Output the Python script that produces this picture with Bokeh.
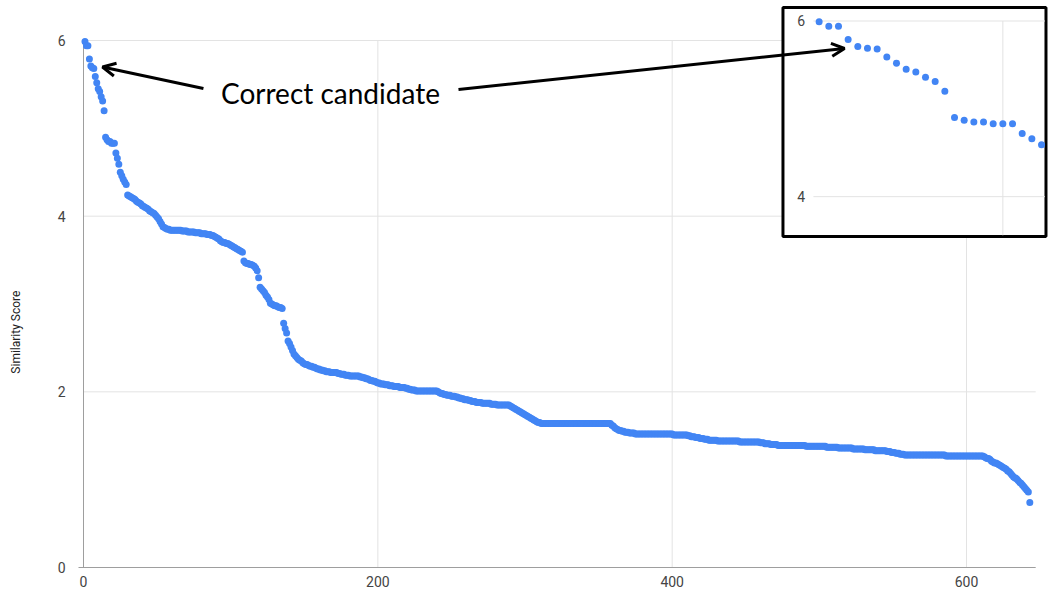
import math
from bokeh.plotting import figure
from bokeh.models import ColumnDataSource, Range1d, FixedTicker, Arrow, OpenHead, Label
from bokeh.core.properties import value
from bokeh.embed import file_html
from bokeh.resources import INLINE

# ---------------- data ----------------
# similarity score of each ranked candidate, rank 1 .. 643
scores_head = [
    5.99, 5.94, 5.94, 5.79, 5.71, 5.69, 5.68, 5.59, 5.52, 5.45,
    5.42, 5.36, 5.31, 5.20, 4.90, 4.87, 4.85, 4.85, 4.83, 4.83,
    4.83, 4.72, 4.66, 4.59, 4.50, 4.46, 4.42, 4.39, 4.36, 4.24,
    4.23, 4.22, 4.21, 4.20, 4.19, 4.17, 4.16, 4.15, 4.14, 4.12,
    4.11, 4.10, 4.09, 4.08, 4.06, 4.05, 4.04, 4.03, 4.01, 3.99,
    3.97, 3.94, 3.91, 3.88, 3.87, 3.86, 3.85, 3.85, 3.84, 3.84,
    3.84, 3.84, 3.84, 3.84, 3.84, 3.84, 3.83, 3.83, 3.83, 3.83,
    3.82, 3.82, 3.82, 3.82, 3.82, 3.81, 3.81, 3.81, 3.81, 3.80,
    3.80, 3.80, 3.80, 3.79, 3.79, 3.79, 3.78, 3.78, 3.77, 3.76,
    3.75, 3.74, 3.72, 3.71, 3.70, 3.70, 3.69, 3.69, 3.68, 3.67,
    3.66, 3.65, 3.64, 3.63, 3.62, 3.61, 3.60, 3.59, 3.49, 3.47,
    3.46, 3.46, 3.45, 3.45, 3.44, 3.43, 3.41, 3.38, 3.30, 3.19,
    3.17, 3.15, 3.13, 3.10, 3.08, 3.05, 3.01, 3.00, 2.99, 2.98,
    2.98, 2.97, 2.96, 2.96, 2.95, 2.78, 2.72, 2.67, 2.58, 2.55,
    2.51, 2.47, 2.43, 2.41, 2.39, 2.37, 2.36, 2.35, 2.33, 2.32,
]
scores_mid = [
    2.31, 2.31, 2.30, 2.29, 2.29, 2.28, 2.28, 2.27, 2.26, 2.26,
    2.25, 2.25, 2.24, 2.24, 2.23, 2.23, 2.23, 2.22, 2.22, 2.22,
    2.22, 2.22, 2.21, 2.21, 2.20, 2.20, 2.20, 2.19, 2.19, 2.19,
    2.18, 2.18, 2.18, 2.18, 2.18, 2.18, 2.18, 2.17, 2.17, 2.16,
    2.16, 2.15, 2.15, 2.14, 2.13, 2.13, 2.12, 2.12, 2.11, 2.10,
    2.10, 2.09, 2.09, 2.09, 2.08, 2.08, 2.08, 2.07, 2.07, 2.07,
    2.06, 2.06, 2.06, 2.06, 2.05, 2.05, 2.05, 2.05, 2.04, 2.04,
    2.03, 2.03, 2.02, 2.02, 2.02, 2.01, 2.01, 2.01, 2.01, 2.01,
    2.01, 2.01, 2.01, 2.01, 2.01, 2.01, 2.01, 2.01, 2.01, 2.01,
    2.00, 1.99, 1.98, 1.98, 1.97, 1.97, 1.96, 1.96, 1.96, 1.95,
    1.95, 1.95, 1.94, 1.94, 1.93, 1.93, 1.92, 1.92, 1.91, 1.91,
    1.91, 1.90, 1.90, 1.89, 1.89, 1.89, 1.88, 1.88, 1.88, 1.88,
    1.87, 1.87, 1.87, 1.87, 1.87, 1.87, 1.86, 1.86, 1.86, 1.86,
    1.85, 1.85, 1.85, 1.85, 1.85, 1.85, 1.85, 1.85, 1.85, 1.84,
    1.83, 1.82, 1.81, 1.80, 1.79, 1.78, 1.77, 1.76, 1.75, 1.74,
    1.73, 1.72, 1.71, 1.70, 1.69, 1.68, 1.67, 1.66, 1.65, 1.65,
    1.64, 1.64, 1.64, 1.64, 1.64, 1.64, 1.64, 1.64, 1.64, 1.64,
    1.64, 1.64, 1.64, 1.64, 1.64, 1.64, 1.64, 1.64, 1.64, 1.64,
    1.64, 1.64, 1.64, 1.64, 1.64, 1.64, 1.64, 1.64, 1.64, 1.64,
    1.64, 1.64, 1.64, 1.64, 1.64, 1.64, 1.64, 1.64, 1.64, 1.64,
    1.64, 1.64, 1.64, 1.64, 1.64, 1.64, 1.64, 1.64, 1.62, 1.61,
    1.59, 1.58, 1.57, 1.56, 1.56, 1.55, 1.55, 1.54, 1.54, 1.54,
    1.53, 1.53, 1.53, 1.53, 1.52, 1.52, 1.52, 1.52, 1.52, 1.52,
    1.52, 1.52, 1.52, 1.52, 1.52, 1.52, 1.52, 1.52, 1.52, 1.52,
    1.52, 1.52, 1.52, 1.52, 1.52, 1.52, 1.52, 1.52, 1.52, 1.52,
]
scores_tail = [
    1.51, 1.51, 1.51, 1.51, 1.51, 1.51, 1.51, 1.51, 1.51, 1.51,
    1.50, 1.50, 1.49, 1.49, 1.49, 1.48, 1.48, 1.48, 1.47, 1.47,
    1.47, 1.46, 1.46, 1.46, 1.45, 1.45, 1.45, 1.45, 1.45, 1.45,
    1.44, 1.44, 1.44, 1.44, 1.44, 1.44, 1.44, 1.44, 1.44, 1.44,
    1.44, 1.44, 1.44, 1.44, 1.44, 1.43, 1.43, 1.43, 1.43, 1.43,
    1.43, 1.43, 1.43, 1.43, 1.43, 1.43, 1.43, 1.43, 1.43, 1.42,
    1.42, 1.42, 1.41, 1.41, 1.41, 1.41, 1.40, 1.40, 1.40, 1.40,
    1.40, 1.39, 1.39, 1.39, 1.39, 1.39, 1.39, 1.39, 1.39, 1.39,
    1.39, 1.39, 1.39, 1.39, 1.39, 1.39, 1.39, 1.39, 1.39, 1.39,
    1.38, 1.38, 1.38, 1.38, 1.38, 1.38, 1.38, 1.38, 1.38, 1.38,
    1.38, 1.38, 1.38, 1.38, 1.37, 1.37, 1.37, 1.37, 1.37, 1.37,
    1.37, 1.37, 1.36, 1.36, 1.36, 1.36, 1.36, 1.36, 1.36, 1.36,
    1.36, 1.36, 1.35, 1.35, 1.35, 1.35, 1.35, 1.35, 1.35, 1.35,
    1.34, 1.34, 1.34, 1.34, 1.34, 1.34, 1.34, 1.33, 1.33, 1.33,
    1.33, 1.33, 1.33, 1.33, 1.33, 1.32, 1.32, 1.32, 1.31, 1.31,
    1.31, 1.30, 1.30, 1.30, 1.29, 1.29, 1.29, 1.28, 1.28, 1.28,
    1.28, 1.28, 1.28, 1.28, 1.28, 1.28, 1.28, 1.28, 1.28, 1.28,
    1.28, 1.28, 1.28, 1.28, 1.28, 1.28, 1.28, 1.28, 1.28, 1.28,
    1.28, 1.28, 1.28, 1.28, 1.28, 1.27, 1.27, 1.27, 1.27, 1.27,
    1.27, 1.27, 1.27, 1.27, 1.27, 1.27, 1.27, 1.27, 1.27, 1.27,
    1.27, 1.27, 1.27, 1.27, 1.27, 1.27, 1.27, 1.27, 1.27, 1.27,
    1.27, 1.26, 1.25, 1.24, 1.24, 1.23, 1.21, 1.20, 1.19, 1.19,
    1.18, 1.17, 1.16, 1.15, 1.14, 1.13, 1.12, 1.10, 1.09, 1.07,
    1.05, 1.03, 1.02, 1.01, 0.99, 0.97, 0.96, 0.94, 0.92, 0.90,
    0.88, 0.86, 0.74,
]
x_ticks = [0, 200, 400, 600]
y_ticks = [0, 2, 4, 6]
y_title = "Similarity Score"
inset_count = 24          # the inset magnifies the first 24 candidates
inset_y_ticks = [4, 6]
inset_y_labels = ["4", "6"]
inset_x_grid = [20]
note_text = "Correct candidate"

scores = scores_head + scores_mid + scores_tail
rank = list(range(1, len(scores) + 1))

BLUE = "#4285F4"
GRID = "#e3e3e3"
AXIS = "#9e9e9e"
LABEL = "#444444"

src = ColumnDataSource(dict(rank=rank, score=scores))
inset_src = ColumnDataSource(dict(rank=rank[:inset_count], score=scores[:inset_count]))

X_END = 647
Y_TOP = max(y_ticks)
p = figure(width=1048, height=592, x_range=Range1d(-56.40, 655.7), y_range=Range1d(-0.2846, 6.4556),
           output_backend="svg", toolbar_location=None,
           min_border_left=0, min_border_right=0, min_border_top=0, min_border_bottom=0)
p.outline_line_color = None
p.background_fill_color = "white"

# grid lines (chart area only)
p.xgrid.visible = False
p.ygrid.visible = False
p.segment(x0=[0] * 3, y0=y_ticks[1:], x1=[X_END] * 3, y1=y_ticks[1:],
          line_color=GRID, line_width=1, level="underlay")
p.segment(x0=x_ticks[1:], y0=[0] * 3, x1=x_ticks[1:], y1=[Y_TOP] * 3,
          line_color=GRID, line_width=1, level="underlay")

# axes, drawn at the zero lines inside the frame
p.xaxis.ticker = FixedTicker(ticks=x_ticks)
p.yaxis.ticker = FixedTicker(ticks=y_ticks)
p.xaxis.fixed_location = 0
p.yaxis.fixed_location = 0
for ax in (p.xaxis, p.yaxis):
    ax.axis_line_color = None
    ax.major_tick_line_color = None
    ax.minor_tick_line_color = None
    ax.major_label_text_font = "Roboto"
    ax.major_label_text_font_size = "14px"
    ax.major_label_text_color = LABEL
p.xaxis.major_label_standoff = 2
p.yaxis.major_label_standoff = 12
p.segment(x0=[-3.4, 0], y0=[0, 0], x1=[X_END, 0], y1=[0, Y_TOP],
          line_color=AXIS, line_width=1)

# y-axis title
p.add_layout(Label(x=-46.2, y=2.68, text=y_title, angle=math.pi / 2,
                   text_align="center", text_baseline="middle",
                   text_font="Roboto", text_font_size="12px", text_color="#222222"))

# main curve
p.scatter("rank", "score", source=src, size=7, fill_color=BLUE, line_color=None)

# ---------------- inset (same y scale, x magnified) ----------------
p.extra_x_ranges = {"ix": Range1d(-83.66, 24.72)}
p.extra_y_ranges = {"iy": Range1d(-0.5069, 6.2333)}

p.quad(left=[-2.74], right=[24.46], top=[6.154], bottom=[3.546],
       x_range_name="ix", y_range_name="iy",
       fill_color="white", line_color="black", line_width=3)
p.segment(x0=[0.41] * len(inset_y_ticks), y0=inset_y_ticks,
          x1=[24.35] * len(inset_y_ticks), y1=inset_y_ticks,
          x_range_name="ix", y_range_name="iy", line_color=GRID, line_width=1)
p.segment(x0=inset_x_grid, y0=[6] * len(inset_x_grid),
          x1=inset_x_grid, y1=[3.56] * len(inset_x_grid),
          x_range_name="ix", y_range_name="iy", line_color=GRID, line_width=1)
p.scatter("rank", "score", source=inset_src, x_range_name="ix", y_range_name="iy",
          size=7, fill_color=BLUE, line_color=None)
p.text(x=[-0.85] * len(inset_y_ticks), y=inset_y_ticks, text=inset_y_labels,
       x_range_name="ix", y_range_name="iy",
       text_font=value("Roboto"), text_font_size="14px", text_color=LABEL,
       text_align="center", text_baseline="middle")

# ---------------- annotation ----------------
p.add_layout(Label(x=167.8, y=5.40, text=note_text, text_align="center",
                   text_baseline="middle", text_font="Lato", text_font_size="28px",
                   text_color="black"))
p.add_layout(Arrow(x_start=81.5, y_start=5.454, x_end=12.9, y_end=5.699,
                   line_width=3, line_color="black",
                   end=OpenHead(size=13, line_width=3, line_color="black")))
p.add_layout(Arrow(x_start=254.8, y_start=5.442, x_end=517.1, y_end=5.909,
                   line_width=3, line_color="black",
                   end=OpenHead(size=13, line_width=3, line_color="black")))

open("out.html", "w").write(file_html(p, INLINE))
